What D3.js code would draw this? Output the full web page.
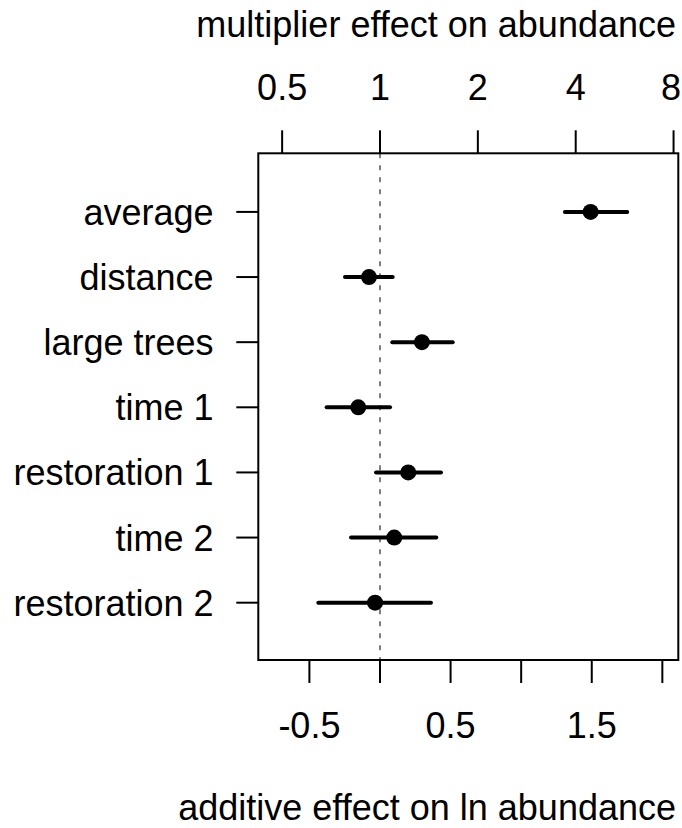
<!DOCTYPE html>
<html>
<head>
<meta charset="utf-8">
<script src="https://cdn.jsdelivr.net/npm/d3@7"></script>
<style>
  body { margin: 0; background: #fff; }
  text { font-family: "Liberation Sans", Arial, sans-serif; fill: #000; }
</style>
</head>
<body>
<div id="chart"></div>
<script>
// coefficient estimates (additive effect on ln abundance) with interval ends
const labels = ["average", "distance", "large trees", "time 1", "restoration 1", "time 2", "restoration 2"];
const estimates = [1.492, -0.078, 0.297, -0.154, 0.200, 0.101, -0.035];
const lower = [1.310, -0.248, 0.087, -0.378, -0.028, -0.205, -0.437];
const upper = [1.751, 0.090, 0.515, 0.071, 0.432, 0.399, 0.361];

const bottomTicks = [-0.5, 0, 0.5, 1, 1.5, 2];
const bottomLabels = [-0.5, 0.5, 1.5];
const topTicks = [0.5, 1, 2, 4, 8];

const width = 682;
const height = 828;
const fontSize = 36;

const svg = d3.select("#chart")
  .append("svg")
  .attr("width", width)
  .attr("height", height);

const plot = { left: 258.3, right: 678.3, top: 153.3, bottom: 660 };

const x = d3.scaleLinear()
  .domain([-0.862, 2.113])
  .range([plot.left, plot.right]);

// row position: first label on top
const y = d3.scaleLinear()
  .domain([0.12, 7.9])
  .range([plot.bottom, plot.top]);
const rowY = i => y(labels.length - i);

// top axis is the same scale read as exp()
const xTop = v => x(Math.log(v));

// reference line at zero
svg.append("line")
  .attr("x1", x(0)).attr("x2", x(0))
  .attr("y1", plot.top).attr("y2", plot.bottom)
  .attr("stroke", "#555")
  .attr("stroke-width", 1.5)
  .attr("stroke-dasharray", "5,7");

// intervals
svg.append("g").selectAll("line")
  .data(labels)
  .join("line")
  .attr("x1", (d, i) => x(lower[i]))
  .attr("x2", (d, i) => x(upper[i]))
  .attr("y1", (d, i) => rowY(i))
  .attr("y2", (d, i) => rowY(i))
  .attr("stroke", "#000")
  .attr("stroke-width", 4)
  .attr("stroke-linecap", "round");

// points
svg.append("g").selectAll("circle")
  .data(labels)
  .join("circle")
  .attr("cx", (d, i) => x(estimates[i]))
  .attr("cy", (d, i) => rowY(i))
  .attr("r", 8)
  .attr("fill", "#000");

// box
svg.append("rect")
  .attr("x", plot.left)
  .attr("y", plot.top)
  .attr("width", plot.right - plot.left)
  .attr("height", plot.bottom - plot.top)
  .attr("fill", "none")
  .attr("stroke", "#000")
  .attr("stroke-width", 2);

// left axis
const leftAxis = svg.append("g");
leftAxis.selectAll("line")
  .data(labels)
  .join("line")
  .attr("x1", plot.left - 22).attr("x2", plot.left)
  .attr("y1", (d, i) => rowY(i))
  .attr("y2", (d, i) => rowY(i))
  .attr("stroke", "#000")
  .attr("stroke-width", 2);
leftAxis.selectAll("text")
  .data(labels)
  .join("text")
  .attr("x", 213.5)
  .attr("y", (d, i) => rowY(i) + 13)
  .attr("text-anchor", "end")
  .style("font-size", fontSize + "px")
  .text(d => d);

// bottom axis
const bottomAxis = svg.append("g");
bottomAxis.selectAll("line")
  .data(bottomTicks)
  .join("line")
  .attr("x1", d => x(d)).attr("x2", d => x(d))
  .attr("y1", plot.bottom).attr("y2", plot.bottom + 23)
  .attr("stroke", "#000")
  .attr("stroke-width", 2);
bottomAxis.selectAll("text")
  .data(bottomLabels)
  .join("text")
  .attr("x", d => x(d))
  .attr("y", 738)
  .attr("text-anchor", "middle")
  .style("font-size", fontSize + "px")
  .text(d => d);

// top axis
const topAxis = svg.append("g");
topAxis.selectAll("line")
  .data(topTicks)
  .join("line")
  .attr("x1", d => xTop(d)).attr("x2", d => xTop(d))
  .attr("y1", plot.top - 23).attr("y2", plot.top)
  .attr("stroke", "#000")
  .attr("stroke-width", 2);
topAxis.selectAll("text")
  .data(topTicks)
  .join("text")
  .attr("x", d => Math.min(xTop(d), 671))   // keep the "8" inside the page
  .attr("y", 100)
  .attr("text-anchor", "middle")
  .style("font-size", fontSize + "px")
  .text(d => d);

// axis titles
svg.append("text")
  .attr("x", 676)
  .attr("y", 37)
  .attr("text-anchor", "end")
  .style("font-size", fontSize + "px")
  .text("multiplier effect on abundance");

svg.append("text")
  .attr("x", 676)
  .attr("y", 820)
  .attr("text-anchor", "end")
  .style("font-size", fontSize + "px")
  .text("additive effect on ln abundance");
</script>
</body>
</html>
